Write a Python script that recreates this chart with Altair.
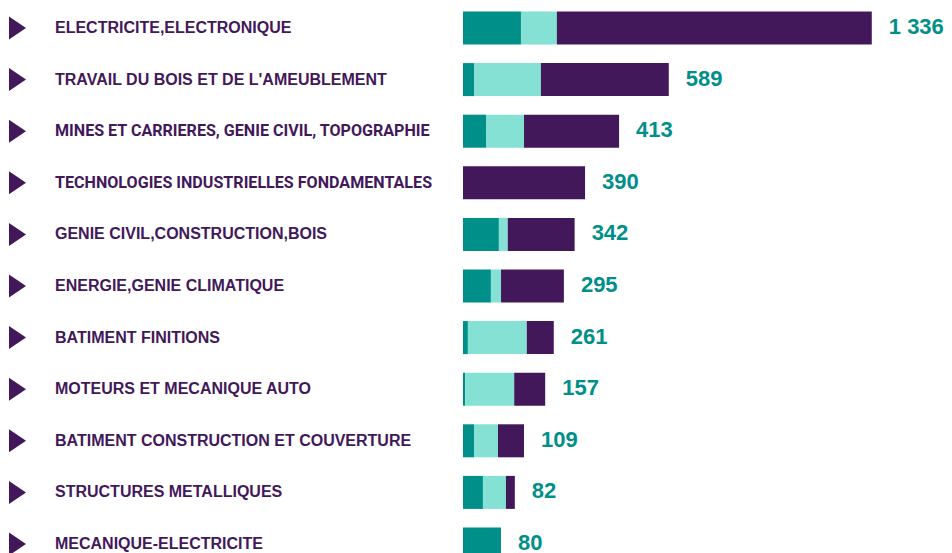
import altair as alt
import pandas as pd

categories = [
    "ELECTRICITE,ELECTRONIQUE",
    "TRAVAIL DU BOIS ET DE L'AMEUBLEMENT",
    "MINES ET CARRIERES, GENIE CIVIL, TOPOGRAPHIE",
    "TECHNOLOGIES INDUSTRIELLES FONDAMENTALES",
    "GENIE CIVIL,CONSTRUCTION,BOIS",
    "ENERGIE,GENIE CLIMATIQUE",
    "BATIMENT FINITIONS",
    "MOTEURS ET MECANIQUE AUTO",
    "BATIMENT CONSTRUCTION ET COUVERTURE",
    "STRUCTURES METALLIQUES",
    "MECANIQUE-ELECTRICITE",
]
series = ["Série 1", "Série 2", "Série 3"]
teal_vals = [189, 36, 75, 0, 117, 91, 16, 7, 36, 65, 124]
light_vals = [117, 218, 124, 0, 29, 33, 192, 160, 78, 75, 0]
purple_vals = [1027, 417, 310, 398, 218, 205, 88, 101, 85, 29, 0]
total_labels = ["1 336", "589", "413", "390", "342", "295", "261", "157", "109", "82", "80"]
condensed_labels = [
    "MINES ET CARRIERES, GENIE CIVIL, TOPOGRAPHIE",
    "TECHNOLOGIES INDUSTRIELLES FONDAMENTALES",
]

TEAL = "#008F89"
LIGHT = "#84E1D3"
PURPLE = "#42185A"

rows = []
for i, c in enumerate(categories):
    for k, (s, vals) in enumerate(zip(series, [teal_vals, light_vals, purple_vals])):
        rows.append({"cat": c, "serie": s, "rank": k, "value": vals[i]})
long_df = pd.DataFrame(rows)

tot_df = pd.DataFrame({
    "cat": categories,
    "bar_len": [a + b + c for a, b, c in zip(teal_vals, light_vals, purple_vals)],
    "label": total_labels,
})
cat_df = pd.DataFrame({"cat": categories})

yscale = alt.Scale(range=[-5.8, 561.8], paddingInner=0.36, paddingOuter=0.18)
xscale = alt.Scale(domain=[0, 1500], nice=False, zero=True)
Y = alt.Y("cat:N", sort=categories, scale=yscale, axis=None)

bars = alt.Chart(long_df).mark_bar().encode(
    x=alt.X("value:Q", stack="zero", scale=xscale, axis=None),
    y=Y,
    color=alt.Color("serie:N", scale=alt.Scale(domain=series, range=[TEAL, LIGHT, PURPLE]), legend=None),
    order=alt.Order("rank:Q"),
)

totals = alt.Chart(tot_df).mark_text(
    align="left", baseline="middle", dx=17, dy=-1, font="Liberation Sans",
    fontWeight="bold", fontSize=22, color=TEAL,
).encode(
    x=alt.X("bar_len:Q", scale=xscale, axis=None),
    y=Y,
    text="label:N",
)

triangles = alt.Chart(cat_df).mark_point(
    shape="M -0.74 -1 L 0.74 0 L -0.74 1 Z", filled=True, size=529,
    color=PURPLE, opacity=1, strokeWidth=0,
).encode(x=alt.value(17.5 - 463), y=Y)

labels = alt.Chart(cat_df).transform_filter(
    {"not": alt.FieldOneOfPredicate(field="cat", oneOf=condensed_labels)}
).mark_text(
    align="left", baseline="middle", font="Liberation Sans", fontWeight="bold",
    fontSize=16, color=PURPLE,
).encode(x=alt.value(55 - 463), y=Y, text="cat:N")

labels_narrow = alt.Chart(cat_df).transform_filter(
    alt.FieldOneOfPredicate(field="cat", oneOf=condensed_labels)
).mark_text(
    align="left", baseline="middle", font="Roboto", fontWeight="bold",
    fontSize=16.1, color=PURPLE,
).encode(x=alt.value(55 - 463), y=Y, text="cat:N")

chart = alt.layer(bars, triangles, labels, labels_narrow, totals).properties(
    width=460, height=545,
    padding={"left": 455, "top": 0, "right": 21, "bottom": 0},
    autosize=alt.AutoSizeParams(type="none"),
).configure_view(stroke=None)

chart.save("out.html", embed_options={"renderer": "svg", "actions": False})
